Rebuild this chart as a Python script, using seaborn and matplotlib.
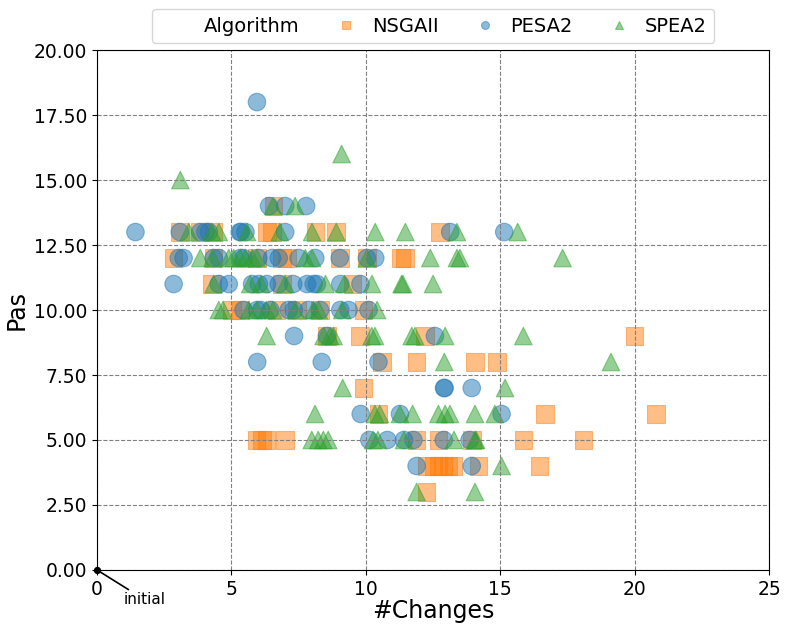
import pandas as pd
import seaborn as sns
import matplotlib
matplotlib.use("Agg")
import matplotlib.pyplot as plt
from matplotlib.lines import Line2D

# values: x = #Changes, y = Pas
nsga_x = [6.57,
          3.08, 3.84, 4.34, 6.32, 6.51, 8.12, 8.9, 12.77,
          2.85, 4.34, 5.95, 6.88, 7.07, 9.03, 10.04, 11.3, 11.45,
          4.28, 6.88, 9.5,
          5.02, 5.33, 6.67, 7.44, 8.3, 9.92,
          8.55, 9.78, 12.2, 20.0,
          10.6, 11.89, 14.06, 14.87,
          9.91,
          10.47, 16.67, 20.8,
          5.94, 6.13, 6.31, 6.99, 11.89, 12.7, 13.94, 15.86, 18.09,
          12.26, 12.51, 12.7, 12.88, 13.07, 13.26, 14.19, 16.46,
          12.26]
nsga_y = [14,
          13, 13, 13, 13, 13, 13, 13, 13,
          12, 12, 12, 12, 12, 12, 12, 12, 12,
          11, 11, 11,
          10, 10, 10, 10, 10, 10,
          9, 9, 9, 9,
          8, 8, 8, 8,
          7,
          6, 6, 6,
          5, 5, 5, 5, 5, 5, 5, 5, 5,
          4, 4, 4, 4, 4, 4, 4, 4,
          3]

pesa_x = [5.95,
          6.4, 7.0, 7.78,
          1.43, 3.08, 3.84, 4.03, 4.16, 5.31, 5.35, 5.52, 7.0, 13.14, 15.15,
          3.04, 3.22, 4.34, 4.53, 5.33, 5.45, 6.0, 6.51, 6.76, 7.5, 8.12, 9.03, 10.04, 10.35,
          2.85, 4.53, 4.9, 5.77, 6.02, 6.32, 6.76, 7.3, 7.81, 8.06, 8.18, 9.05, 9.8,
          5.45, 5.95, 6.1, 6.45, 7.13, 7.32, 7.87, 8.3, 9.05, 9.36, 10.1,
          7.33, 8.55, 12.57,
          5.96, 8.36, 10.47,
          12.91, 12.93, 13.94,
          9.81, 11.27, 15.05,
          10.13, 10.8, 11.42, 11.77, 12.9, 13.86,
          11.89, 13.94]
pesa_y = [18,
          14, 14, 14,
          13, 13, 13, 13, 13, 13, 13, 13, 13, 13, 13,
          12, 12, 12, 12, 12, 12, 12, 12, 12, 12, 12, 12, 12, 12,
          11, 11, 11, 11, 11, 11, 11, 11, 11, 11, 11, 11, 11,
          10, 10, 10, 10, 10, 10, 10, 10, 10, 10, 10,
          9, 9, 9,
          8, 8, 8,
          7, 7, 7,
          6, 6, 6,
          5, 5, 5, 5, 5, 5,
          4, 4]

spea_x = [9.1,
          3.1,
          6.55, 7.37,
          3.41, 4.28, 4.53, 5.58, 6.8, 8.0, 8.9, 10.35, 11.47, 13.39, 15.65,
          3.84, 4.3, 4.9, 5.08, 5.33, 5.52, 5.77, 5.95, 7.75, 8.0, 10.04, 12.4, 13.39, 13.5, 17.32,
          4.34, 5.7, 6.1, 7.0, 8.5, 9.2, 10.23, 11.33, 11.38, 12.5,
          4.53, 4.69, 5.65, 5.95, 6.3, 6.55, 7.38, 8.05, 8.25, 9.12, 10.42,
          6.31, 8.43, 8.67, 8.8, 10.22, 10.34, 11.71, 11.83, 12.95, 15.86,
          12.92, 19.12,
          9.14, 15.18,
          8.11, 10.34, 10.52, 11.27, 11.74, 12.7, 12.95, 13.13, 14.06, 14.8,
          7.99, 8.23, 8.42, 8.6, 10.27, 10.45, 11.42, 13.28, 14.06, 14.1,
          15.05,
          11.89, 14.06]
spea_y = [16,
          15,
          14, 14,
          13, 13, 13, 13, 13, 13, 13, 13, 13, 13, 13,
          12, 12, 12, 12, 12, 12, 12, 12, 12, 12, 12, 12, 12, 12, 12,
          11, 11, 11, 11, 11, 11, 11, 11, 11, 11,
          10, 10, 10, 10, 10, 10, 10, 10, 10, 10, 10,
          9, 9, 9, 9, 9, 9, 9, 9, 9, 9,
          8, 8,
          7, 7,
          6, 6, 6, 6, 6, 6, 6, 6, 6, 6,
          5, 5, 5, 5, 5, 5, 5, 5, 5, 5,
          4,
          3, 3]

algorithms = ["NSGAII", "PESA2", "SPEA2"]
x_ticks = [0, 5, 10, 15, 20, 25]
y_ticks = [0, 2.5, 5, 7.5, 10, 12.5, 15, 17.5, 20]

# build the long table for seaborn
data = pd.concat([
    pd.DataFrame({"Algorithm": "NSGAII", "#Changes": nsga_x, "Pas": nsga_y}),
    pd.DataFrame({"Algorithm": "PESA2", "#Changes": pesa_x, "Pas": pesa_y}),
    pd.DataFrame({"Algorithm": "SPEA2", "#Changes": spea_x, "Pas": spea_y}),
], ignore_index=True)

fig = plt.figure(figsize=(7.92, 6.34), dpi=100)
ax = fig.add_axes([0.1225, 0.101, 0.8485, 0.82])

palette = {"NSGAII": "tab:orange", "PESA2": "tab:blue", "SPEA2": "tab:green"}
markers = {"NSGAII": "s", "PESA2": "o", "SPEA2": "^"}
sns.scatterplot(data=data, x="#Changes", y="Pas", hue="Algorithm", style="Algorithm",
                hue_order=algorithms, style_order=algorithms,
                palette=palette, markers=markers, s=160, alpha=0.5,
                edgecolor=None, linewidth=0.8, ax=ax)

# starting point
ax.scatter([0], [0], color="black", s=18, zorder=5, clip_on=False)
ax.annotate("initial", xy=(0, 0), xytext=(1.0, -1.15), fontsize=11,
            ha="left", va="center", annotation_clip=False,
            arrowprops=dict(arrowstyle="-", color="black", lw=1.2, shrinkA=0, shrinkB=0))

ax.set_xlim(0, 25)
ax.set_ylim(0, 20)
ax.set_xticks(x_ticks)
ax.set_yticks(y_ticks)
ax.set_yticklabels([f"{v:.2f}" for v in y_ticks])
ax.tick_params(labelsize=13.5)
ax.set_xlabel("#Changes", fontsize=17, labelpad=0)
ax.set_ylabel("Pas", fontsize=17)
ax.grid(True, linestyle="--", color="gray", linewidth=0.8)

# legend in one row with the hue title as a first entry
handles, labels = ax.get_legend_handles_labels()
blank = Line2D([], [], linestyle="none", marker=None)
ax.legend(handles=[blank] + handles, labels=["Algorithm"] + labels, ncol=4,
          loc="lower center", bbox_to_anchor=(0.5, 1.0), fontsize=14,
          markerscale=0.45, handletextpad=0.3, columnspacing=1.4,
          borderaxespad=0.35, frameon=True)

fig.savefig("out.png", dpi=100)
